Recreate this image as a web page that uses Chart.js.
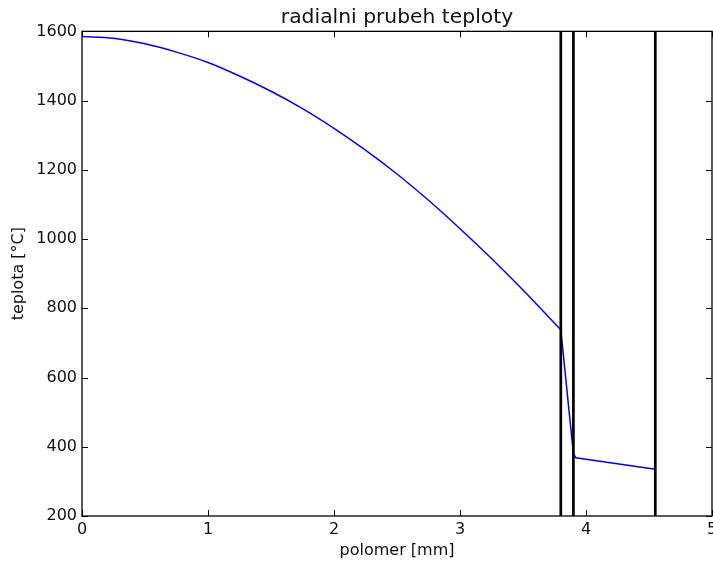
<!DOCTYPE html>
<html lang="cs">
<head>
  <meta charset="UTF-8" />
  <title>radialni prubeh teploty</title>
  <script src="https://cdn.jsdelivr.net/npm/chart.js"></script>
  <style>
    body {
      margin: 0;
      background: #fff;
    }
    canvas {
      display: block;
    }
  </style>
</head>
<body>
  <canvas id="chart" width="713" height="569"></canvas>

  <script>
    // polomer [mm] vs teplota [°C]
    const radius = [0, 0.25, 0.5, 0.75, 1.0, 1.25, 1.5, 1.75, 2.0, 2.25, 2.5, 2.75, 3.0, 3.25, 3.5, 3.8, 3.9, 3.92, 4.55];
    const temperature = [1585, 1580, 1564, 1540, 1510, 1471, 1427, 1377, 1320, 1257, 1188, 1112, 1030, 944, 853, 738, 380, 368, 335];
    // index of the fuel surface, the curve is smooth up to here
    const fuelEnd = 15;
    // boundaries palivo / mezera / pokryti
    const boundaries = [3.8, 3.9, 4.55];
    const xRange = [0, 5];
    const yRange = [200, 1600];

    const font = 'DejaVu Sans';
    const ink = '#111';

    const points = radius.map((r, i) => ({ x: r, y: temperature[i] }));

    const boundaryLines = boundaries.map(b => ({
      data: [{ x: b, y: yRange[0] }, { x: b, y: yRange[1] }],
      borderColor: '#000',
      borderWidth: 2.7,
      pointRadius: 0,
      order: 0
    }));

    const blue = {
      borderColor: '#0000ff',
      borderWidth: 1.5,
      pointRadius: 0,
      order: 1
    };

    // matplotlib style box with inward ticks on all four sides
    const frame = {
      id: 'frame',
      afterDatasetsDraw(chart) {
        const { ctx, chartArea: a, scales } = chart;
        const len = 6;
        ctx.save();
        ctx.strokeStyle = '#000';
        ctx.lineWidth = 1;
        ctx.beginPath();
        scales.x.ticks.forEach(t => {
          const px = Math.round(scales.x.getPixelForValue(t.value)) + 0.5;
          ctx.moveTo(px, a.bottom); ctx.lineTo(px, a.bottom - len);
          ctx.moveTo(px, a.top); ctx.lineTo(px, a.top + len);
        });
        scales.y.ticks.forEach(t => {
          const py = Math.round(scales.y.getPixelForValue(t.value)) + 0.5;
          ctx.moveTo(a.left, py); ctx.lineTo(a.left + len, py);
          ctx.moveTo(a.right, py); ctx.lineTo(a.right - len, py);
        });
        ctx.stroke();
        ctx.lineWidth = 1.3;
        ctx.strokeRect(a.left, a.top, a.right - a.left, a.bottom - a.top);
        ctx.restore();
      }
    };

    new Chart(document.getElementById('chart').getContext('2d'), {
      type: 'line',
      data: {
        datasets: [
          ...boundaryLines,
          { ...blue, data: points.slice(0, fuelEnd + 1), cubicInterpolationMode: 'monotone' },
          { ...blue, data: points.slice(fuelEnd), tension: 0 }
        ]
      },
      options: {
        responsive: false,
        animation: false,
        layout: { padding: { left: 0, right: 1, top: 0, bottom: 0 } },
        plugins: {
          legend: { display: false },
          tooltip: { enabled: false },
          title: {
            display: true,
            fullSize: false,
            text: 'radialni prubeh teploty',
            color: ink,
            font: { family: font, size: 20.3, weight: 'normal' },
            padding: { top: 6, bottom: 1 }
          }
        },
        scales: {
          x: {
            type: 'linear',
            min: xRange[0],
            max: xRange[1],
            grid: { display: false, drawTicks: false },
            border: { display: false },
            ticks: {
              stepSize: 1,
              padding: 4,
              color: ink,
              maxRotation: 0,
              font: { family: font, size: 16 }
            },
            title: {
              display: true,
              text: 'polomer [mm]',
              color: ink,
              font: { family: font, size: 16 },
              padding: { top: 0, bottom: 9 }
            },
            afterFit(scale) {
              scale.height = 53;
              scale.paddingLeft = 0;
              scale.paddingRight = 0;
            }
          },
          y: {
            type: 'linear',
            min: yRange[0],
            max: yRange[1],
            grid: { display: false, drawTicks: false },
            border: { display: false },
            ticks: {
              stepSize: 200,
              padding: 5,
              color: ink,
              font: { family: font, size: 16 },
              callback: v => String(v)
            },
            title: {
              display: true,
              text: 'teplota [°C]',
              color: ink,
              font: { family: font, size: 16 },
              padding: { top: 9, bottom: 0 }
            },
            afterFit(scale) {
              scale.width = 82;
            }
          }
        }
      },
      plugins: [frame]
    });
  </script>
</body>
</html>
